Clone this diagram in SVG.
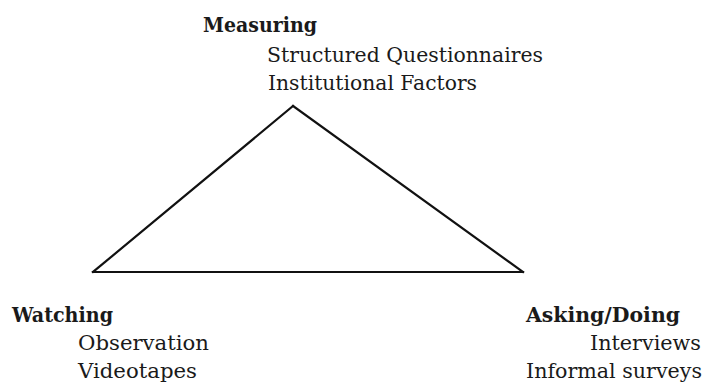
<svg xmlns="http://www.w3.org/2000/svg" width="708" height="384" viewBox="0 0 708 384">
<style>
text{font-family:"DejaVu Serif","Liberation Serif",serif;font-size:21px;fill:#1a1a1a}
.h{font-weight:bold}
.edge{stroke:#111;stroke-width:2.2;fill:none;stroke-linecap:square}
</style>
<rect width="708" height="384" fill="#fff"/>
<g id="connectors">
<line class="edge" x1="293" y1="106" x2="93" y2="272"/>
<line class="edge" x1="293" y1="106" x2="523" y2="272"/>
<line class="edge" x1="93" y1="272" x2="523" y2="272"/>
</g>
<g id="measuring">
<text class="h" x="203" y="32" textLength="114" lengthAdjust="spacingAndGlyphs">Measuring</text>
<text x="267" y="62" textLength="276" lengthAdjust="spacingAndGlyphs">Structured Questionnaires</text>
<text x="268" y="90" textLength="209" lengthAdjust="spacingAndGlyphs">Institutional Factors</text>
</g>
<g id="watching">
<text class="h" x="12" y="322" textLength="101" lengthAdjust="spacingAndGlyphs">Watching</text>
<text x="78" y="350" textLength="131" lengthAdjust="spacingAndGlyphs">Observation</text>
<text x="78" y="378" textLength="119" lengthAdjust="spacingAndGlyphs">Videotapes</text>
</g>
<g id="asking">
<text class="h" x="526" y="322" textLength="154" lengthAdjust="spacingAndGlyphs">Asking/Doing</text>
<text x="590" y="350" textLength="111" lengthAdjust="spacingAndGlyphs">Interviews</text>
<text x="526" y="378" textLength="176" lengthAdjust="spacingAndGlyphs">Informal surveys</text>
</g>
</svg>
